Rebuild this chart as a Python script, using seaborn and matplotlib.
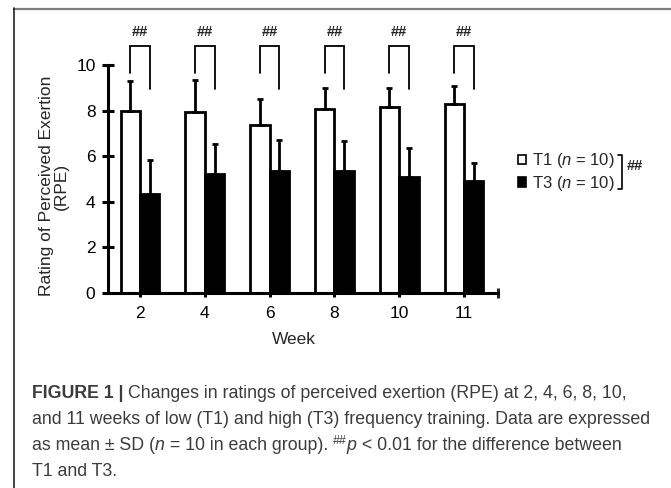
"""RPE by week for T1 vs T3 training groups (bar chart with SD and ## marks)."""

import matplotlib

matplotlib.use("Agg")
import matplotlib.pyplot as plt
import numpy as np
import pandas as pd
import seaborn as sns
from matplotlib.lines import Line2D
from matplotlib.patches import Patch

WEEKS = ["2", "4", "6", "8", "10", "11"]
GROUPS = ["T1", "T3"]
T1_MEAN = [8.0, 7.95, 7.35, 8.05, 8.15, 8.3]
T1_SD = [1.3, 1.4, 1.15, 0.95, 0.85, 0.8]
T3_MEAN = [4.35, 5.2, 5.35, 5.33, 5.07, 4.9]
T3_SD = [1.5, 1.35, 1.35, 1.35, 1.3, 0.82]
N_PER_GROUP = 10
SIG_MARK = "##"

W, H = 671, 488
CAPTION_COLOR = "#3c3c3c"


def fx(px):
    return px / W


def fy(py):
    return 1 - py / H


def draw_runs(fig, renderer, x, y, runs, size):
    # place text pieces one after another on a single baseline
    for text, style in runs:
        kw = dict(fontsize=size, color=CAPTION_COLOR, va="baseline", ha="left")
        yy = y
        if style == "bold":
            kw["fontweight"] = "bold"
        elif style == "italic":
            kw["fontstyle"] = "italic"
        elif style == "sup":
            kw["fontsize"] = size * 0.7
            yy = y + fy(0) - fy(6)
        t = fig.text(x, yy, text, **kw)
        bb = t.get_window_extent(renderer)
        x += bb.width / W


def main():
    sns.set_theme(style="white")
    plt.rcParams["font.family"] = ["Liberation Sans", "DejaVu Sans"]
    plt.rcParams["mathtext.fontset"] = "custom"
    plt.rcParams["mathtext.it"] = "Liberation Sans:italic"
    plt.rcParams["mathtext.rm"] = "Liberation Sans"

    df = pd.DataFrame({
        "week": WEEKS * 2,
        "group": [GROUPS[0]] * len(WEEKS) + [GROUPS[1]] * len(WEEKS),
        "mean": T1_MEAN + T3_MEAN,
    })

    fig = plt.figure(figsize=(W / 100, H / 100), dpi=100)
    ax = fig.add_axes([fx(108), fy(293), fx(498) - fx(108), fy(65) - fy(293)])
    sns.barplot(data=df, x="week", y="mean", hue="group", order=WEEKS, hue_order=GROUPS,
                palette={"T1": "white", "T3": "black"}, saturation=1, edgecolor="black",
                linewidth=2.0, width=0.6, errorbar=None, legend=False, ax=ax)

    # upper-only SD bars
    for cont, sd in zip(ax.containers, [T1_SD, T3_SD]):
        xs = [b.get_x() + b.get_width() / 2 for b in cont]
        ys = [b.get_height() for b in cont]
        ax.errorbar(xs, ys, yerr=[np.zeros(len(sd)), sd], fmt="none", ecolor="black",
                    elinewidth=2.0, capsize=2.5, capthick=2.0)

    # significance brackets
    for b1, b3 in zip(ax.containers[0], ax.containers[1]):
        xl = b1.get_x() + b1.get_width() / 2
        xr = b3.get_x() + b3.get_width() / 2
        ax.plot([xl, xl, xr, xr], [9.65, 10.83, 10.83, 8.95], color="black", lw=1.3,
                clip_on=False, solid_joinstyle="miter")
        ax.text((xl + xr) / 2, 11.45, SIG_MARK, ha="center", va="center", fontsize=10.5,
                fontweight="bold")

    ax.set_ylim(0, 10)
    ax.set_xlim(-0.494, 5.525)
    ax.set_yticks([0, 2, 4, 6, 8, 10])
    ax.set_xticks([5.525], minor=True)
    ax.set_xlabel("")
    ax.set_ylabel("")
    sns.despine(ax=ax)
    for s in ["left", "bottom"]:
        ax.spines[s].set_linewidth(2.2)
        ax.spines[s].set_color("black")
    ax.tick_params(axis="y", direction="inout", length=8, width=2.2, labelsize=12.5, pad=5,
                   left=True, colors="black")
    ax.tick_params(axis="x", direction="out", length=3, width=2.2, labelsize=12.5, pad=6,
                   bottom=True, colors="black")
    ax.tick_params(axis="x", which="minor", direction="inout", length=7, width=2.2, bottom=True)

    fig.text(fx(54), fy(186), "Rating of Perceived Exertion\n(RPE)", rotation=90,
             ha="center", va="center", multialignment="center", fontsize=12.5, linespacing=1.05)
    fig.text(fx(294), fy(340), "Week", ha="center", va="center", fontsize=12.5)

    # legend with bracket
    handles = [Patch(facecolor="white", edgecolor="black", linewidth=1.2),
               Patch(facecolor="black", edgecolor="black", linewidth=1.2)]
    labels = [f"{g} ($n$ = {N_PER_GROUP})" for g in GROUPS]
    ax.legend(handles, labels, loc="center left", bbox_to_anchor=(fx(518), fy(172)),
              bbox_transform=fig.transFigure, frameon=False, fontsize=12, borderpad=0,
              borderaxespad=0, handlelength=0.5, handleheight=0.5, handletextpad=0.35,
              labelspacing=0.2)
    fig.add_artist(Line2D([fx(618), fx(622), fx(622), fx(618)],
                          [fy(155), fy(155), fy(189), fy(189)], color="black", lw=1.2,
                          transform=fig.transFigure))
    fig.text(fx(627), fy(166), SIG_MARK, ha="left", va="center", fontsize=10.5,
             fontweight="bold")

    # frame lines of the figure panel
    fig.add_artist(Line2D([fx(14), 1], [fy(8.5), fy(8.5)], color="#7f7f7f", lw=1.6,
                          transform=fig.transFigure))
    fig.add_artist(Line2D([fx(14), fx(14)], [fy(8), 0], color="#222222", lw=1.2,
                          transform=fig.transFigure))

    # caption
    renderer = fig.canvas.get_renderer()
    size = 12.8
    x0 = fx(32)
    draw_runs(fig, renderer, x0, fy(398), [
        ("FIGURE 1 | ", "bold"),
        ("Changes in ratings of perceived exertion (RPE) at 2, 4, 6, 8, 10,", "normal"),
    ], size)
    draw_runs(fig, renderer, x0, fy(424), [
        ("and 11 weeks of low (T1) and high (T3) frequency training. Data are expressed", "normal"),
    ], size)
    draw_runs(fig, renderer, x0, fy(450), [
        ("as mean \u00b1 SD (", "normal"), ("n", "italic"),
        (" = 10 in each group). ", "normal"), ("##", "sup"), ("p", "italic"),
        (" < 0.01 for the difference between", "normal"),
    ], size)
    draw_runs(fig, renderer, x0, fy(476), [("T1 and T3.", "normal")], size)

    fig.savefig("out.png", dpi=100)
    plt.close(fig)


if __name__ == "__main__":
    main()
